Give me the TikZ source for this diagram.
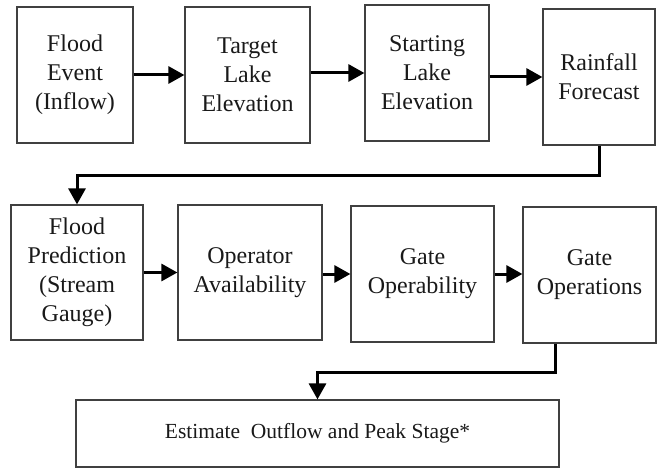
\documentclass[tikz,border=0pt]{standalone}
\usepackage{fontspec}
\setmainfont{Liberation Serif}
\usetikzlibrary{arrows.meta}

\begin{document}
\begin{tikzpicture}[x=1pt,y=-1pt,
  box/.style={draw=black!75, line width=1.2pt, align=center, inner sep=0pt, text=black!90, font=\fontsize{24}{29}\selectfont},
  flow/.style={line width=3pt, -{Triangle[length=16pt,width=17pt]}}]
\useasboundingbox (0,0) rectangle (658,470);
% first row
\node[box, minimum width=116, minimum height=136] (flood) at (75,75) {Flood\\Event\\(Inflow)};
\node[box, minimum width=125, minimum height=136] (target) at (247.5,75) {Target\\Lake\\Elevation};
\node[box, minimum width=124, minimum height=136] (start) at (427,73) {Starting\\Lake\\Elevation};
\node[box, minimum width=112, minimum height=136] (rain) at (599,77) {Rainfall\\Forecast};
% second row
\node[box, minimum width=132, minimum height=135] (predict) at (77,272.5) {Flood\\Prediction\\(Stream\\Gauge)};
\node[box, minimum width=144, minimum height=135] (oper) at (250,272.5) {Operator\\Availability};
\node[box, minimum width=143, minimum height=136] (gate) at (422.5,274) {Gate\\Operability};
\node[box, minimum width=133, minimum height=136] (ops) at (589.5,275) {Gate\\Operations};
% last box
\node[box, minimum width=483, minimum height=67, font=\fontsize{21.5}{26}\selectfont] (est) at (317.5,433.5) {Estimate\ \ Outflow and Peak Stage*};
\draw[flow] (flood.east) -- (flood.east -| target.west);
\draw[flow] (start.west -| target.east) -- (start.west);
\draw[flow] (rain.west -| start.east) -- (rain.west);
\draw[flow] (rain.south) -- ++(0,30) -| (predict.north);
\draw[flow] (predict.east) -- (oper.west);
\draw[flow] (gate.west -| oper.east) -- (gate.west);
\draw[flow] (gate.east) -- (gate.east -| ops.west);
\draw[flow] ([xshift=-34.5pt]ops.south) -- ++(0,29) -| (est.north);
\end{tikzpicture}
\end{document}
